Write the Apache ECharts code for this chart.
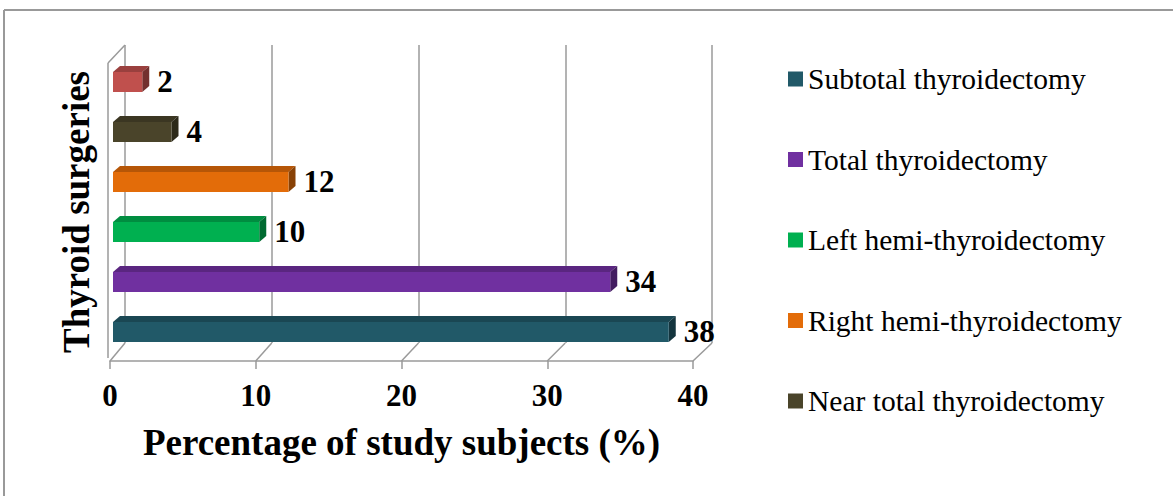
<!DOCTYPE html>
<html>
<head>
<meta charset="utf-8">
<script src="https://cdn.jsdelivr.net/npm/echarts@6/dist/echarts.min.js"></script>
<style>
  html, body { margin: 0; padding: 0; background: #fff; }
  #chart { width: 1173px; height: 496px; }
</style>
</head>
<body>
<div id="chart"></div>
<script>
// bottom to top, as drawn
const categories = ["Subtotal thyroidectomy", "Total thyroidectomy", "Left hemi-thyroidectomy", "Right hemi-thyroidectomy", "Near total thyroidectomy", "Completion thyroidectomy"];
const values = [38, 34, 10, 12, 4, 2];
const colors = ["#215968", "#7030A0", "#00B050", "#E36C09", "#4A442A", "#C0504D"];
// the legend in the picture only shows the first five
const legendNames = categories.slice(0, 5);
const xTicks = [0, 10, 20, 30, 40];

const SERIF = '"Liberation Serif", "Times New Roman", serif';
const GRID_COLOR = "#9a9a9a";

function shade(hex, amt) {
  let n = parseInt(hex.slice(1), 16);
  let r = (n >> 16) & 255, g = (n >> 8) & 255, b = n & 255;
  const f = (c) => Math.max(0, Math.min(255, Math.round(c * (1 + amt))));
  return "rgb(" + f(r) + "," + f(g) + "," + f(b) + ")";
}

// 3d-looking bar: front face + top face + right side face + value label
function renderBar(params, api) {
  const v = api.value(0);
  const c = api.value(1);
  const start = api.coord([0, c]);
  const end = api.coord([v, c]);
  const band = api.size([0, 1])[1];
  const h = band * 0.4;
  const dx = 7, dy = 6;
  const x0 = start[0], x1 = end[0];
  const yTop = end[1] - h / 2, yBot = end[1] + h / 2;
  const col = api.visual("color");
  return {
    type: "group",
    children: [
      {
        type: "polygon",
        shape: { points: [[x0, yTop], [x0 + dx, yTop - dy], [x1 + dx, yTop - dy], [x1, yTop]] },
        style: { fill: shade(col, -0.2) },
      },
      {
        type: "polygon",
        shape: { points: [[x1, yTop], [x1 + dx, yTop - dy], [x1 + dx, yBot - dy], [x1, yBot]] },
        style: { fill: shade(col, -0.4) },
      },
      {
        type: "rect",
        shape: { x: x0, y: yTop, width: x1 - x0, height: h },
        style: { fill: col },
      },
      {
        type: "text",
        style: {
          text: String(v),
          x: x1 + dx + 8,
          y: end[1] - 1,
          align: "left",
          verticalAlign: "middle",
          fontFamily: SERIF,
          fontWeight: "bold",
          fontSize: 31,
          fill: "#000",
        },
      },
    ],
  };
}

const series = categories.map((name, i) => ({
  name: name,
  type: "custom",
  xAxisIndex: 0,
  yAxisIndex: 0,
  itemStyle: { color: colors[i] },
  renderItem: renderBar,
  data: [[values[i], i]],
}));

const myChart = echarts.init(document.getElementById("chart"), null, { renderer: "svg" });

const option = {
  animation: false,
  backgroundColor: "#fff",
  grid: [
    // bars
    { left: 113, right: 475, top: 57, bottom: 139 },
    // back wall
    { left: 125, right: 461, top: 45, bottom: 153 },
    // front floor edge with tick labels
    { left: 110, right: 480, top: 360, height: 1 },
  ],
  legend: {
    orient: "vertical",
    left: 783,
    top: 59,
    icon: "rect",
    itemWidth: 15,
    itemHeight: 15,
    itemGap: 50.5,
    data: legendNames,
    textStyle: { fontFamily: SERIF, fontSize: 29.5, color: "#000", lineHeight: 30 },
  },
  xAxis: [
    { gridIndex: 0, type: "value", min: 0, max: 40, show: false },
    {
      gridIndex: 1,
      type: "value",
      min: 0,
      max: 40,
      interval: 10,
      axisLine: { show: false },
      axisTick: { show: false },
      axisLabel: { show: false },
      splitLine: { show: true, lineStyle: { color: GRID_COLOR, width: 1.5 } },
    },
    {
      gridIndex: 2,
      type: "value",
      min: 0,
      max: 40,
      interval: 10,
      axisLine: { show: true, lineStyle: { color: GRID_COLOR, width: 1.5 } },
      axisTick: { show: true, length: 8, lineStyle: { color: GRID_COLOR, width: 1.5 } },
      axisLabel: { margin: 19, fontFamily: SERIF, fontWeight: "bold", fontSize: 31, color: "#000" },
      splitLine: { show: false },
      name: "Percentage of study subjects (%)",
      nameLocation: "middle",
      nameGap: 63,
      nameTextStyle: { fontFamily: SERIF, fontWeight: "bold", fontSize: 37, color: "#000" },
    },
  ],
  yAxis: [
    {
      gridIndex: 0,
      type: "category",
      data: categories,
      axisLine: { show: false },
      axisTick: { show: false },
      axisLabel: { show: false },
      splitLine: { show: false },
      name: "Thyroid surgeries",
      nameLocation: "middle",
      nameRotate: 90,
      nameGap: 18,
      nameTextStyle: { fontFamily: SERIF, fontWeight: "bold", fontSize: 37, color: "#000", padding: [0, 10, 0, 0] },
    },
    { gridIndex: 1, type: "value", min: 0, max: 1, show: false },
    { gridIndex: 2, type: "value", min: 0, max: 1, show: false },
  ],
  series: series,
};
myChart.setOption(option);

// floor diagonals, left wall and outer frame, placed from the axes' own pixels
const back = (v, y) => myChart.convertToPixel({ xAxisIndex: 1, yAxisIndex: 1 }, [v, y]);
const front = (v) => myChart.convertToPixel({ xAxisIndex: 2, yAxisIndex: 2 }, [v, 0]);
const lineStyle = { stroke: GRID_COLOR, lineWidth: 1.5 };
let deco = [];
xTicks.forEach((t) => {
  const b = back(t, 0), f = front(t);
  deco.push({ type: "line", shape: { x1: b[0], y1: b[1], x2: f[0], y2: f[1] }, style: lineStyle, silent: true });
});
const b0 = back(0, 0), bTop = back(0, 1), f0 = front(0);
const wallTop = bTop[1] + (f0[1] - b0[1]);
deco.push({ type: "line", shape: { x1: f0[0] - 2, y1: f0[1] - 3, x2: f0[0] - 2, y2: wallTop }, style: lineStyle, silent: true });
deco.push({ type: "line", shape: { x1: f0[0] - 2, y1: wallTop, x2: bTop[0], y2: bTop[1] }, style: lineStyle, silent: true });
deco.push({ type: "line", shape: { x1: 4, y1: 10, x2: 1173, y2: 10 }, style: { stroke: "#999", lineWidth: 2 }, silent: true });
deco.push({ type: "line", shape: { x1: 4, y1: 10, x2: 4, y2: 496 }, style: { stroke: "#999", lineWidth: 2 }, silent: true });
myChart.setOption({ graphic: deco });
</script>
</body>
</html>
